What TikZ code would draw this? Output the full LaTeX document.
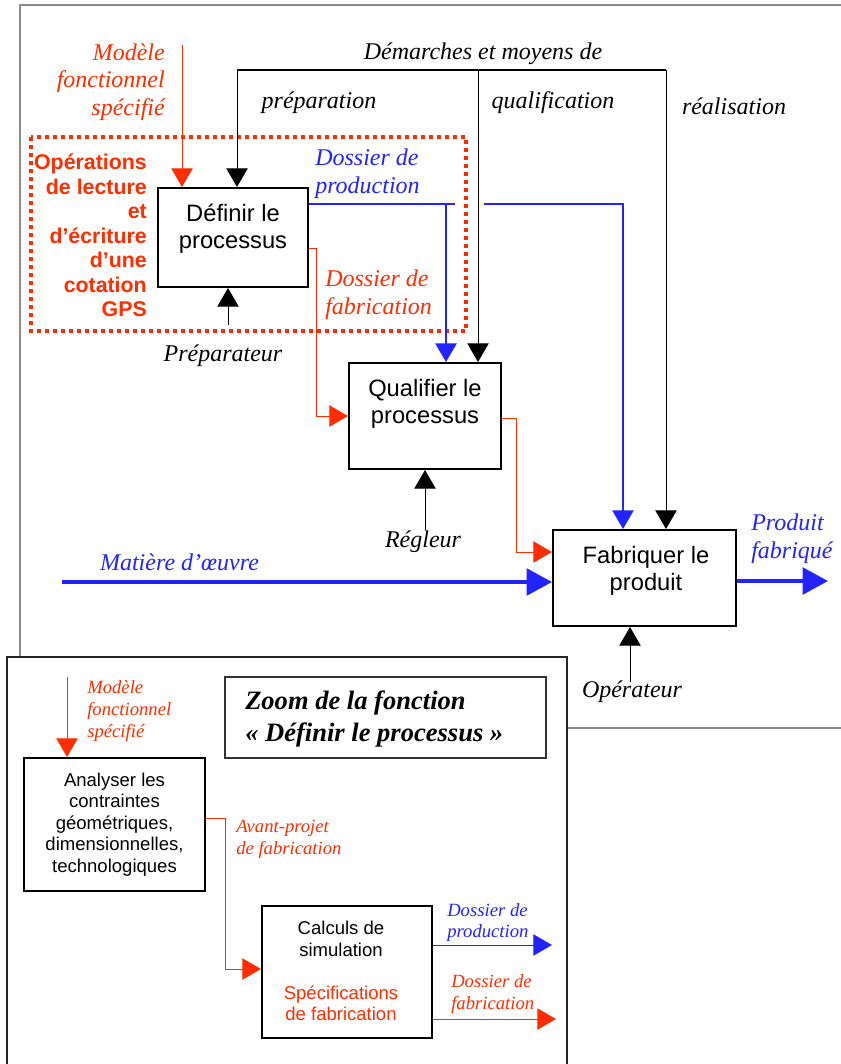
\documentclass[tikz,border=0pt]{standalone}
\usepackage{fontspec}
\setmainfont{Liberation Serif}
\setsansfont{Liberation Sans}
\usetikzlibrary{arrows.meta,calc}
\definecolor{cred}{RGB}{255,45,0}
\definecolor{cblue}{RGB}{35,35,255}
\definecolor{frgray}{RGB}{140,140,140}
\tikzset{
  procbox/.style={draw=black, line width=1.5pt, fill=white, inner sep=0pt},
  boxtxt/.style={font=\sffamily\fontsize{17.8}{20.3}\selectfont, align=center, inner sep=0pt},
  smalltxt/.style={font=\sffamily\fontsize{13.9}{16.1}\selectfont, align=center, inner sep=0pt},
  itlab/.style={font=\itshape\fontsize{18}{21}\selectfont, inner sep=0pt},
  smallit/.style={font=\itshape\fontsize{14}{16.2}\selectfont, inner sep=0pt},
  gpstxt/.style={font=\sffamily\bfseries\fontsize{16}{18.4}\selectfont, align=right, inner sep=0pt, text=cred},
  arr/.style={-{Triangle[width=16pt,length=14pt]}},
  bigarr/.style={-{Triangle[width=20pt,length=19pt]}},
  thinln/.style={line width=0.75pt},
  redln/.style={thinln, draw=cred},
  blueln/.style={thinln, draw=cblue},
}
\begin{document}
\begin{tikzpicture}[x=0.75pt,y=-0.75pt]
\useasboundingbox[fill=white] (0,0) rectangle (840,1064);

% outer frame
\draw[frgray, line width=1pt] (20,657) -- (20,5) -- (842,5);
\draw[frgray, line width=1pt] (567,728) -- (842,728);

% ---------- upper diagram ----------
% dotted red zone
\draw[cred, line width=3pt, dash pattern=on 3pt off 3pt] (31,137) rectangle (466,331);

\node[procbox, minimum width=112.5pt, minimum height=74.25pt] (def) at (233,237.5) {};
\node[boxtxt] (deft) at (233,228.5) {Définir le\\processus};

\node[procbox, minimum width=114pt, minimum height=79.5pt] (qual) at (425,416) {};
\node[boxtxt] (qualt) at (425,404) {Qualifier le\\processus};

\node[procbox, minimum width=137.25pt, minimum height=72pt] (fab) at (644.5,578) {};
\node[boxtxt] (fabt) at (646,571) {Fabriquer le\\produit};

% texts
\node[itlab, text=cred, align=right, anchor=east, font=\itshape\fontsize{18}{20.6}\selectfont] (mod) at (165,82) {Modèle\\fonctionnel\\spécifié};
\node[itlab] (dem) at (483,54) {Démarches et moyens de};
\node[itlab] (prepa) at (319,103) {préparation};
\node[itlab] (qualif) at (553,103) {qualification};
\node[itlab] (reali) at (734,106) {réalisation};
\node[gpstxt, anchor=east] (gps) at (147,235.5) {Opérations\\de lecture\\et\\d’écriture\\d’une\\cotation\\GPS};
\node[itlab, text=cblue, align=left, anchor=west] (dprod) at (315,174) {Dossier de\\production};
\node[itlab, text=cred, align=left, anchor=west] (dfab) at (325,295) {Dossier de\\fabrication};
\node[itlab] (prepr) at (223,356) {Préparateur};
\node[itlab] (regl) at (423,542) {Régleur};
\node[itlab] (oper) at (632,692) {Opérateur};
\node[itlab, text=cblue] (mat) at (179.5,562) {Matière d’œuvre};
\node[itlab, text=cblue, align=left, anchor=west] (prodf) at (751,538.5) {Produit\\fabriqué};

% coordinates
\coordinate (mtop) at (182,45);
\coordinate (dtl) at (237,70);
\coordinate (dq) at (478,70);
\coordinate (dtr) at (666,70);
\coordinate (bq) at (446,204);
\coordinate (bgap1) at (455,204);
\coordinate (bgap2) at (484,204);
\coordinate (bf) at (623,204);
\coordinate (rf) at (316,248);
\coordinate (rq) at (516,418);
\coordinate (rq2) at (516,552);
\coordinate (prep) at (228,325);
\coordinate (regc) at (425,530);
\coordinate (opc) at (630,682);
\coordinate (matc) at (62,582);
\coordinate (outc) at (828,581);

% connectors
\draw[redln, arr] (mtop) -- (mtop |- def.north);
\draw[black, line width=1.2pt] (dtl) -- (dtr);
\draw[thinln, arr] (dtl) -- (dtl |- def.north);
\draw[thinln, arr] (dq) -- (dq |- qual.north);
\draw[thinln, arr] (dtr) -- (dtr |- fab.north);

\draw[blueln, line width=1.1pt] (def.east |- bq) -- (bgap1);
\draw[blueln, line width=1.1pt, arr] (bq) -- (bq |- qual.north);
\draw[blueln, line width=1.1pt, arr] (bgap2) -- (bf) -- (bf |- fab.north);

\draw[redln, arr] (def.east |- rf) -- (rf) -- (rf |- qual.west) -- (qual.west);
\draw[redln, arr] (qual.east |- rq) -- (rq) -- (rq2) -- (fab.west |- rq2);

\draw[thinln, arr] (prep) -- (prep |- def.south);
\draw[thinln, arr] (regc) -- (qual.south);
\draw[thinln, arr] (opc) -- (opc |- fab.south);

\draw[cblue, line width=2.6pt, bigarr] (matc) -- (fab.west |- matc);
\draw[cblue, line width=2.6pt, bigarr] (fab.east |- outc) -- (outc);

% ---------- lower zoom panel ----------
\fill[white] (7,657) rectangle (567,1064);
\draw[black!85, line width=0.9pt] (7,1066) -- (7,657) -- (567,657) -- (567,1066);

\node[draw=black!80, line width=1.1pt, minimum width=240.75pt, minimum height=60.75pt, inner sep=0pt] (ttl) at (385.5,717.5) {};
\node[font=\bfseries\itshape\fontsize{19.9}{24}\selectfont, align=left, anchor=west, inner sep=0pt] (ttlt) at (245,719) {Zoom de la fonction\\« Définir le processus »};

\node[procbox, smalltxt, minimum width=135.75pt, minimum height=99.75pt] (ana) at (114.5,824.5) {Analyser les\\contraintes\\géométriques,\\dimensionnelles,\\technologiques};

\node[procbox, minimum width=127.5pt, minimum height=99pt] (calc) at (347,972) {};
\node[smalltxt] (calct) at (341,939) {Calculs de\\simulation};
\node[smalltxt, text=cred] (spect) at (341,1003.5) {Spécifications\\de fabrication};

\node[smallit, text=cred, align=left, anchor=west] (mod2) at (87,711) {Modèle\\fonctionnel\\spécifié};
\node[smallit, text=cred, align=left, anchor=west] (avp) at (236,839) {Avant-projet\\de fabrication};
\node[smallit, text=cblue, align=left, anchor=west] (dprod2) at (447,922.5) {Dossier de\\production};
\node[smallit, text=cred, align=left, anchor=west] (dfab2) at (451,994) {Dossier de\\fabrication};

\coordinate (m2) at (67,677);
\coordinate (av1) at (225,818);
\coordinate (av2) at (225,969);
\coordinate (dp) at (552,945);
\coordinate (df) at (556,1019);

\draw[redln, arr] (m2) -- (m2 |- ana.north);
\draw[redln, arr] (ana.east |- av1) -- (av1) -- (av2) -- (calc.west |- av2);
\draw[blueln, arr] (calc.east |- dp) -- (dp);
\draw[redln, arr] (calc.east |- df) -- (df);
\end{tikzpicture}
\end{document}
